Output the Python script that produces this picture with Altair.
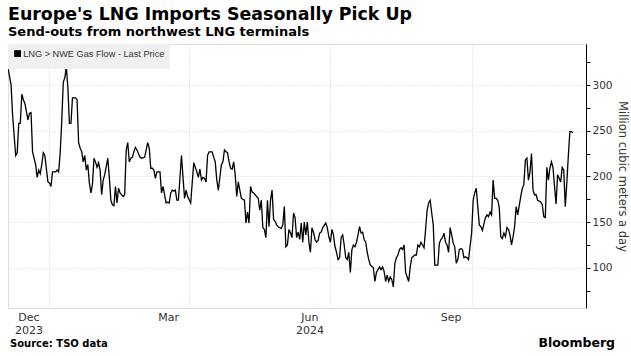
import altair as alt
import pandas as pd

# ---- data ----
start_date = "2023-11-04"
days = [0, 2, 3, 5, 6, 7, 8, 9, 10, 11, 13, 14, 15, 16, 18, 19, 20, 21, 22, 23, 24, 26, 27, 28, 29, 31, 32, 33, 34, 35,
        36, 37, 38, 39, 40, 41, 42, 44, 45, 46, 47, 48, 49, 50, 51, 52, 53, 54, 55, 56, 57, 58, 59,
        60, 61, 62, 63, 65, 66, 67, 68, 69, 70, 71, 72, 73, 75, 76, 77, 78, 79, 80, 81, 82, 83, 84, 86, 87, 89, 90,
        91, 92, 93, 94, 95, 96, 97, 99, 100, 101, 102, 103, 104, 105, 106, 107, 108, 109, 110, 111, 113, 114, 115,
        116, 117, 119, 120, 121, 122,
        123, 124, 125, 126, 127, 128, 129, 130, 131, 133, 134, 135, 136, 137, 139, 140, 141, 142, 143, 144, 145, 146,
        147, 148, 149, 150, 151, 152, 154, 155, 156, 157, 158, 159, 160, 161, 162, 163, 164, 165, 166, 167, 168, 169,
        170, 171, 172, 173, 174, 175, 176, 178, 179, 180, 181, 182, 183,
        184, 185, 186, 187, 188, 189, 190, 191, 192, 193, 194, 195, 196, 197, 198, 199, 200, 201, 202, 203, 204, 205,
        207, 208, 209, 210, 211, 212, 213, 214, 215, 216, 217, 218, 219, 220, 221, 222, 223, 224, 225, 226, 227, 228,
        229, 230, 231, 232, 233, 234, 235, 236, 238, 239, 240, 241, 242, 243, 244, 245, 246,
        247, 248, 249, 250, 251, 252, 253, 254, 255, 256, 257, 258, 259, 261, 262, 263, 265, 266, 267, 268, 269, 270,
        271, 272, 273, 274, 275, 276, 277, 278, 280, 281, 282, 283, 284, 285, 286, 287, 288, 289, 290, 291, 292, 293,
        294, 295, 296, 297, 298, 299, 300, 302, 303, 304, 305, 307, 308, 309,
        311, 312, 313, 314, 315, 316, 317, 318, 319, 320, 321, 322, 323, 324, 325, 326, 327, 328, 329, 330, 331, 332,
        334, 335, 336, 337, 338, 339, 340, 341, 342, 343, 344, 345, 347, 348, 349, 350, 351, 352, 353, 354, 355, 356,
        357, 358, 359, 360, 361, 362, 363, 364, 365, 366, 367, 368]
values = [319, 300, 267, 223, 226, 258, 258, 290, 284, 280, 262, 269, 270, 227, 213, 199, 207, 203, 213, 226, 223, 194,
          193, 189, 205, 205, 207, 205, 226, 260, 303, 308, 320, 297, 258, 258, 286, 286, 284, 237, 231, 227, 216, 223,
          207, 213, 193, 182, 191, 220, 216, 210, 215,
          207, 180, 196, 202, 220, 199, 174, 169, 168, 189, 171, 187, 182, 178, 180, 229, 237, 216, 220, 221, 227, 232,
          229, 221, 220, 221, 229, 237, 231, 209, 209, 207, 198, 205, 205, 182, 189, 180, 171, 172, 171, 182, 185, 184,
          185, 174, 174, 223, 199, 176, 185, 178, 171, 193, 215, 210,
          205, 199, 208, 196, 199, 198, 194, 223, 227, 227, 221, 216, 196, 185, 213, 216, 229, 227, 226, 216, 209, 208,
          216, 202, 178, 194, 185, 176, 174, 149, 161, 149, 189, 183, 182, 180, 178, 176, 163, 174, 144, 142, 133, 174,
          145, 174, 185, 153, 151, 147, 145, 143, 147, 167, 123, 125, 142,
          138, 133, 160, 155, 133, 139, 131, 149, 128, 150, 136, 150, 128, 117, 144, 139, 131, 128, 130, 138, 139, 144,
          149, 144, 134, 128, 142, 136, 123, 117, 109, 111, 133, 136, 125, 111, 109, 117, 95, 120, 125, 123, 128, 136,
          145, 138, 139, 131, 128, 117, 109, 103, 100, 85, 95, 98, 101, 98, 101, 96, 85,
          92, 85, 90, 87, 79, 105, 111, 114, 120, 122, 120, 125, 95, 85, 101, 111, 114, 114, 125, 123, 128, 125,
          122, 142, 163, 171, 174, 160, 147, 103, 103, 127, 131, 133, 138, 128, 125, 117, 144, 136, 127, 123, 105, 109,
          120, 121, 120, 111, 112, 111, 109, 138, 174, 182, 187, 147, 145, 141,
          155, 158, 156, 161, 158, 196, 176, 176, 174, 166, 134, 132, 138, 134, 144, 142, 136, 125, 134, 145, 167, 158,
          178, 187, 191, 218, 220, 196, 205, 225, 185, 180, 180, 174, 172, 169, 156, 155, 210, 196, 209, 216, 210, 189,
          170, 202, 198, 194, 210, 207, 167, 193, 223, 249, 249, 248]
series_name = "LNG > NWE Gas Flow - Last Price"

x_tick_dates = [(2023, 12, 1), (2024, 3, 1), (2024, 6, 1), (2024, 9, 1)]
y_ticks = [75, 100, 125, 150, 175, 200, 225, 250, 275, 300, 325]

title_text = "Europe's LNG Imports Seasonally Pick Up"
subtitle_text = "Send-outs from northwest LNG terminals"
source_text = "Source: TSO data"
brand_text = "Bloomberg"
y_title = "Million cubic meters a day"

df = pd.DataFrame({
    "date": pd.Timestamp(start_date) + pd.to_timedelta(days, unit="D"),
    "value": values,
    "series": series_name,
})

FONT = "DejaVu Sans"
NARROW = "Liberation Sans"
W, H = 578, 264

x_vals = [alt.DateTime(year=y, month=m, date=d) for (y, m, d) in x_tick_dates]

line = alt.Chart(df).mark_line(color="#000000", strokeWidth=1.3, clip=True).encode(
    x=alt.X(
        "date:T",
        scale=alt.Scale(domain=[alt.DateTime(year=2023, month=11, date=4),
                                alt.DateTime(year=2024, month=11, date=14, hours=12)]),
        axis=alt.Axis(
            values=x_vals,
            title=None,
            domain=False,
            ticks=False,
            grid=True,
            gridColor="#cfcfcf",
            gridDash=[1, 2],
            labelExpr="month(datum.value)==11 ? ['Dec', '2023'] : month(datum.value)==2 ? 'Mar' : month(datum.value)==5 ? ['Jun', '2024'] : 'Sep'",
            labelOffset=-21,
            labelFont=FONT,
            labelFontSize=11,
            labelColor="#333333",
            labelLineHeight=13,
            labelPadding=3,
            labelBaseline="top",
        ),
    ),
    y=alt.Y(
        "value:Q",
        scale=alt.Scale(domain=[56, 345], nice=False, zero=False),
        axis=alt.Axis(
            orient="right",
            values=y_ticks,
            labelExpr="datum.value % 50 === 0 ? datum.label : ''",
            gridColor={"condition": {"test": "datum.value % 50 === 0", "value": "#d6d6d6"}, "value": "transparent"},
            gridDash=[1, 2],
            domainColor="#000000",
            tickColor="#000000",
            tickSize=4,
            labelFont=FONT,
            labelFontSize=10.5,
            labelColor="#333333",
            labelPadding=2,
            title=y_title,
            titleFont=FONT,
            titleFontSize=11.5,
            titleFontWeight="normal",
            titleColor="#333333",
            titleAngle=90,
            titlePadding=4,
        ),
    ),
    color=alt.Color(
        "series:N",
        scale=alt.Scale(range=["#000000"]),
        legend=alt.Legend(
            title=None,
            orient="top-left",
            offset=0,
            fillColor="#f0f0f0",
            padding=5,
            symbolType="square",
            symbolSize=8,
            symbolStrokeWidth=4,
            symbolStrokeColor="#000000",
            labelFont=NARROW,
            labelFontSize=9.2,
            labelLimit=300,
            labelColor="#333333",
            labelOffset=1,
        ),
    ),
)

source = alt.Chart(pd.DataFrame({"t": [source_text]})).mark_text(
    align="left", baseline="middle", font=FONT, fontSize=10, fontWeight="bold", color="#000000"
).encode(text="t:N", x=alt.value(2), y=alt.value(300))

brand = alt.Chart(pd.DataFrame({"t": [brand_text]})).mark_text(
    align="right", baseline="middle", font=FONT, fontSize=12.5, fontWeight="bold", color="#000000"
).encode(text="t:N", x=alt.value(607), y=alt.value(299))

chart = alt.layer(line, source, brand).properties(
    width=W,
    height=H,
    autosize=alt.AutoSizeParams(type="none"),
    padding={"left": 8, "top": 44, "right": 45, "bottom": 48},
    title=alt.TitleParams(
        text=title_text,
        subtitle=subtitle_text,
        anchor="start",
        frame="group",
        font=FONT,
        fontSize=17.4,
        fontWeight="bold",
        color="#000000",
        subtitleFont=FONT,
        subtitleFontSize=13,
        subtitleFontWeight="bold",
        subtitleColor="#000000",
        subtitlePadding=3,
        offset=5,
    ),
).configure_view(stroke=None).configure(background="#ffffff")

chart.save("out.html", embed_options={"renderer": "svg", "actions": False})
